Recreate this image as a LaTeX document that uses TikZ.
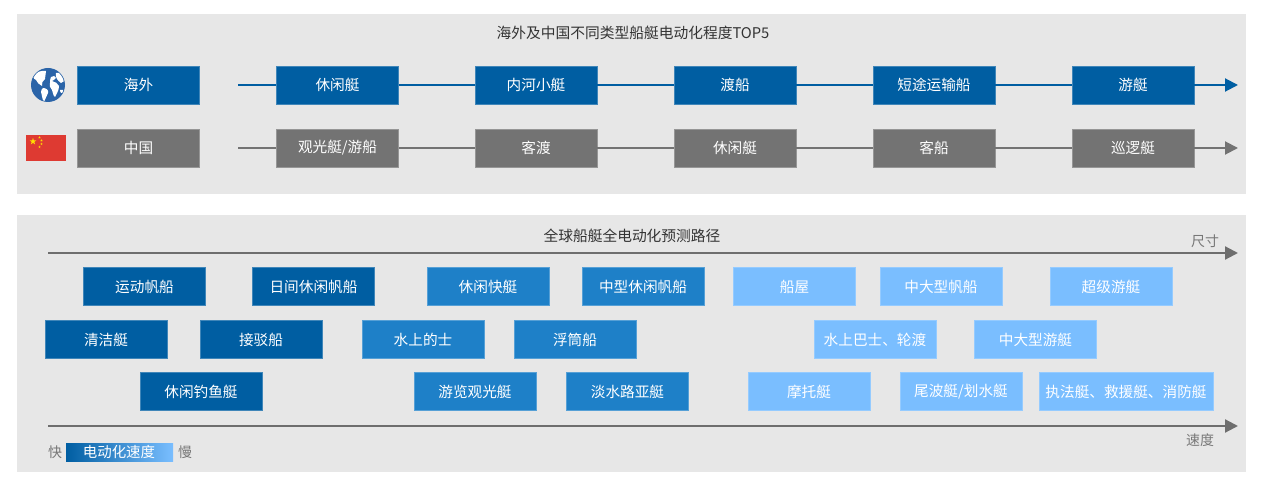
\documentclass[tikz,border=0pt]{standalone}
\usepackage{fontspec}
\setmainfont{Noto Sans CJK SC}
\usetikzlibrary{shapes.geometric,arrows.meta}
\definecolor{panelbg}{HTML}{E7E7E7}
\definecolor{dblue}{HTML}{005EA2}
\definecolor{mblue}{HTML}{1E80C8}
\definecolor{lblue}{HTML}{7ABEFF}
\definecolor{gbox}{HTML}{737373}
\definecolor{axisgray}{HTML}{6E6E6E}
\definecolor{titlegray}{HTML}{333333}
\definecolor{lablgray}{HTML}{777777}
\definecolor{globeblue}{HTML}{2B64A8}
\definecolor{flagred}{HTML}{DE3A32}
\definecolor{flagyellow}{HTML}{FFDE00}
\begin{document}
\begin{tikzpicture}[x=1bp,y=-1bp,
  boxbase/.style={rectangle, minimum height=38bp, inner sep=0pt, text=white,
    font=\fontsize{14.7}{15}\selectfont, line width=0.6bp},
  dbx/.style={boxbase, fill=dblue, draw=dblue!75!white, minimum width=#1},
  mbx/.style={boxbase, fill=mblue, draw=mblue!75!white, minimum width=#1},
  lbx/.style={boxbase, fill=lblue, draw=lblue!80!white, minimum width=#1},
  gbx/.style={boxbase, fill=gbox, draw=gbox!75!white, minimum width=#1},
  dbx/.default=122bp, mbx/.default=122bp, lbx/.default=122bp, gbx/.default=122bp,
  ttl/.style={text=titlegray, font=\fontsize{14.8}{15}\selectfont, inner sep=0pt},
  lbl/.style={text=lablgray, font=\fontsize{14}{15}\selectfont, inner sep=0pt},
  conn/.style={line width=2bp},
  tip/.style={-{Triangle[length=13bp,width=13bp]}}
]
\useasboundingbox (0,0) rectangle (1265,490);
\fill[white] (0,0) rectangle (1265,490);
% panels
\fill[panelbg] (17,14) rectangle (1246,194);
\fill[panelbg] (17,215) rectangle (1246,472);

% ---------- top panel ----------
\node[ttl] (t1) at (633,33) {海外及中国不同类型船艇电动化程度TOP5};

% globe
\begin{scope}
  \fill[globeblue] (48,85) circle (17);
  \clip (48,85) circle (16.2);
  % North America
  \fill[white] (33,76) .. controls (36,72) and (42,70) .. (46,71) .. controls (47,74) and (44,76) .. (45,79)
     .. controls (43,81) and (41,83) .. (42,86) .. controls (39,85) and (37,82) .. (36,80) .. controls (35,79) and (33,79) .. cycle;
  % South America
  \fill[white] (43,88) .. controls (46,88) and (49,90) .. (48,93) .. controls (47,96) and (45,99) .. (44,102)
     .. controls (42,99) and (42,95) .. (41,92) .. controls (41,90) and (42,89) .. cycle;
  % Europe / Africa
  \fill[white] (51,77) .. controls (53,75) and (56,76) .. (56,78) .. controls (55,80) and (53,80) .. (52,81)
     .. controls (55,82) and (58,83) .. (59,86) .. controls (59,90) and (57,93) .. (55,97)
     .. controls (53,96) and (53,92) .. (52,90) .. controls (50,88) and (49,85) .. (50,83) .. controls (50,81) and (50,79) .. cycle;
  % Asia
  \fill[white] (56,73) .. controls (60,72) and (64,74) .. (66,77) .. controls (66,80) and (64,82) .. (61,83)
     .. controls (59,82) and (58,80) .. (57,79) .. controls (56,77) and (55,75) .. cycle;
  % Australia
  \fill[white] (60,90) .. controls (62,89) and (64,90) .. (64,92) .. controls (62,94) and (60,93) .. cycle;
\end{scope}

% China flag
\fill[flagred] (26,135) rectangle (66,161);
\node[star, star points=5, star point ratio=2.5, fill=flagyellow, inner sep=0pt, minimum size=7bp] (s0) at (33,141.5) {};
\node[star, star points=5, star point ratio=2.5, fill=flagyellow, inner sep=0pt, minimum size=2.6bp] (s1) at (39.5,137.5) {};
\node[star, star points=5, star point ratio=2.5, fill=flagyellow, inner sep=0pt, minimum size=2.6bp] (s2) at (41.5,140.5) {};
\node[star, star points=5, star point ratio=2.5, fill=flagyellow, inner sep=0pt, minimum size=2.6bp] (s3) at (41.5,144) {};
\node[star, star points=5, star point ratio=2.5, fill=flagyellow, inner sep=0pt, minimum size=2.6bp] (s4) at (39.5,147) {};

% overseas row
\node[dbx] (o0) at (138.5,85) {海外};
\coordinate (ostart) at (238,85);
\coordinate (oend) at (1238,85);
\node[dbx] (o1) at (337.5,85) {休闲艇};
\node[dbx] (o2) at (536,85) {内河小艇};
\node[dbx] (o3) at (735,85) {渡船};
\node[dbx] (o4) at (934,85) {短途运输船};
\node[dbx] (o5) at (1133,85) {游艇};
\draw[conn, dblue] (ostart) -- (o1.west);
\draw[conn, dblue] (o1.east) -- (o2.west);
\draw[conn, dblue] (o2.east) -- (o3.west);
\draw[conn, dblue] (o3.east) -- (o4.west);
\draw[conn, dblue] (o4.east) -- (o5.west);
\draw[conn, dblue, tip] (o5.east) -- (oend);

% China row
\node[gbx] (c0) at (138.5,148) {中国};
\coordinate (cstart) at (238,148);
\coordinate (cend) at (1238,148);
\node[gbx] (c1) at (337.5,148) {观光艇/游船};
\node[gbx] (c2) at (536,148) {客渡};
\node[gbx] (c3) at (735,148) {休闲艇};
\node[gbx] (c4) at (934,148) {客船};
\node[gbx] (c5) at (1133,148) {巡逻艇};
\draw[conn, gbox] (cstart) -- (c1.west);
\draw[conn, gbox] (c1.east) -- (c2.west);
\draw[conn, gbox] (c2.east) -- (c3.west);
\draw[conn, gbox] (c3.east) -- (c4.west);
\draw[conn, gbox] (c4.east) -- (c5.west);
\draw[conn, gbox, tip] (c5.east) -- (cend);

% ---------- bottom panel ----------
\node[ttl] (t2) at (632,236) {全球船艇全电动化预测路径};
\coordinate (ax1s) at (48,253);
\coordinate (ax1e) at (1238,253);
\draw[conn, axisgray, line width=2.2bp, tip] (ax1s) -- (ax1e);
\node[lbl] (size) at (1205,241) {尺寸};

\coordinate (ax2s) at (48,426);
\coordinate (ax2e) at (1238,426);
\draw[conn, axisgray, line width=2.2bp, tip] (ax2s) -- (ax2e);
\node[lbl] (speed) at (1200,440) {速度};

% row 1
\node[dbx] (r11) at (144.5,286.5) {运动帆船};
\node[dbx] (r12) at (313.5,286.5) {日间休闲帆船};
\node[mbx] (r13) at (488,286.5) {休闲快艇};
\node[mbx] (r14) at (643,286.5) {中型休闲帆船};
\node[lbx] (r15) at (794.5,286.5) {船屋};
\node[lbx] (r16) at (941,286.5) {中大型帆船};
\node[lbx] (r17) at (1111,286.5) {超级游艇};
% row 2
\node[dbx] (r21) at (106,339.5) {清洁艇};
\node[dbx] (r22) at (261,339.5) {接驳船};
\node[mbx] (r23) at (423,339.5) {水上的士};
\node[mbx] (r24) at (575,339.5) {浮筒船};
\node[lbx] (r25) at (875,339.5) {水上巴士、轮渡};
\node[lbx] (r26) at (1035.5,339.5) {中大型游艇};
% row 3
\node[dbx] (r31) at (201,391.5) {休闲钓鱼艇};
\node[mbx] (r32) at (475,391.5) {游览观光艇};
\node[mbx] (r33) at (627.5,391.5) {淡水路亚艇};
\node[lbx] (r34) at (809,391.5) {摩托艇};
\node[lbx] (r35) at (961,391.5) {尾波艇/划水艇};
\node[lbx=174bp] (r36) at (1126,391.5) {执法艇、救援艇、消防艇};

% legend
\node[lbl] (fast) at (55,452) {快};
\shade[left color=dblue, right color=lblue] (66,443) rectangle (173,461);
\node[text=white, font=\fontsize{14.5}{15}\selectfont, inner sep=0pt] (legtxt) at (119,452) {电动化速度};
\node[lbl] (slow) at (185,452) {慢};
\end{tikzpicture}
\end{document}
